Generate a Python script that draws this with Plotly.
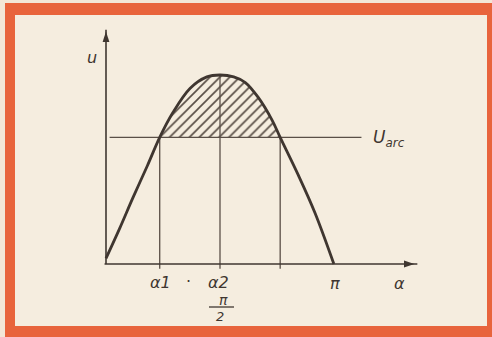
import math
import plotly.graph_objects as go

# u(alpha) curve over one half-period, read point by point
CURVE_ALPHA = [0.0, 0.19, 0.37, 0.57, 0.74, 0.92, 1.16, 1.39, 1.57, 1.76, 1.92, 2.10, 2.29, 2.40, 2.65, 2.88, 3.14]
CURVE_U = [0.03, 0.19, 0.35, 0.52, 0.67, 0.80, 0.93, 0.99, 1.00, 0.99, 0.96, 0.88, 0.76, 0.67, 0.47, 0.27, 0.0]

# arc voltage level and the characteristic angles
U_ARC = 0.67
ALPHA1 = 0.74
ALPHA2 = math.pi / 2
ALPHA3 = 2.40
ALPHA_PI = math.pi

# extents of the drawn axes and of the U_arc line
AXIS_X_END = 4.33
AXIS_Y_END = 1.27
UARC_X0, UARC_X1 = 0.05, 3.52

INK = "#3f3630"
THIN = "#5a4f47"

W, H = 492, 337
S = 228 / math.pi  # pixels per radian
fig = go.Figure()

# hatched area between the curve and U_arc
hatch_a = [a for a in CURVE_ALPHA if ALPHA1 <= a <= ALPHA3]
hatch_u = [u for a, u in zip(CURVE_ALPHA, CURVE_U) if ALPHA1 <= a <= ALPHA3]
fig.add_trace(go.Scatter(
    x=hatch_a, y=hatch_u, mode="lines", fill="toself",
    line=dict(width=0, shape="spline", smoothing=1.0),
    fillcolor="rgba(0,0,0,0)",
    fillpattern=dict(shape="/", size=7, solidity=0.24, fgcolor="#5a4f47",
                     bgcolor="rgba(0,0,0,0)", fillmode="replace"),
    hoverinfo="skip", showlegend=False,
))

# vertical guide lines
for xv, top in [(ALPHA1, U_ARC), (ALPHA2, 1.0), (ALPHA3, U_ARC)]:
    fig.add_trace(go.Scatter(x=[xv, xv], y=[-0.025, top], mode="lines",
                             line=dict(color=THIN, width=1.3),
                             hoverinfo="skip", showlegend=False))

# U_arc line
fig.add_trace(go.Scatter(x=[UARC_X0, UARC_X1], y=[U_ARC, U_ARC], mode="lines",
                         line=dict(color=THIN, width=1.4),
                         hoverinfo="skip", showlegend=False))

# the curve
fig.add_trace(go.Scatter(x=CURVE_ALPHA, y=CURVE_U, mode="lines",
                         line=dict(color=INK, width=2.8, shape="spline", smoothing=1.0),
                         hoverinfo="skip", showlegend=False))

# axes, each ending in an arrowhead marker
fig.add_trace(go.Scatter(x=[-0.02, AXIS_X_END - 0.04], y=[0, 0], mode="lines",
                         line=dict(color=INK, width=1.6), hoverinfo="skip", showlegend=False))
fig.add_trace(go.Scatter(x=[0, 0], y=[0, AXIS_Y_END - 0.03], mode="lines",
                         line=dict(color=INK, width=1.6), hoverinfo="skip", showlegend=False))
fig.add_trace(go.Scatter(x=[AXIS_X_END - 0.08], y=[0], mode="markers",
                         marker=dict(symbol="arrow", angle=90, size=11, color=INK),
                         hoverinfo="skip", showlegend=False))
fig.add_trace(go.Scatter(x=[0], y=[AXIS_Y_END - 0.04], mode="markers",
                         marker=dict(symbol="arrow", angle=0, size=11, color=INK),
                         hoverinfo="skip", showlegend=False))

# labels
def label(x, y, text, xshift=0, yshift=0, size=16):
    fig.add_annotation(x=x, y=y, xref="x", yref="y", text=text, showarrow=False,
                       xshift=xshift, yshift=yshift,
                       font=dict(family="DejaVu Sans", size=size, color=INK))

label(ALPHA1, 0, "<i>α1</i>", xshift=1, yshift=-18)
label(ALPHA1, 0, "·", xshift=29, yshift=-17)
label(ALPHA2, 0, "<i>α2</i>", xshift=-2, yshift=-18)
label(ALPHA2, 0, "<i>π</i>", xshift=3, yshift=-36, size=14)
label(ALPHA2, 0, "<i>2</i>", xshift=0, yshift=-52, size=13)
label(ALPHA_PI, 0, "<i>π</i>", xshift=1, yshift=-19)
label(AXIS_X_END, 0, "<i>α</i>", xshift=-21, yshift=-19)
label(0, AXIS_Y_END, "<i>u</i>", xshift=-14, yshift=-34)
label(UARC_X1, U_ARC, "<i>U<sub>arc</sub></i>", xshift=28, yshift=-1, size=17)

# fraction bar of pi/2
fig.add_shape(type="line", xref="x", yref="y", xsizemode="pixel", ysizemode="pixel",
              xanchor=ALPHA2, yanchor=0, x0=-11, x1=14, y0=-43, y1=-43,
              line=dict(color=INK, width=1.3))

# frame: outer orange border and cream card
fig.add_shape(type="rect", xref="paper", yref="paper", x0=5 / W, x1=1, y0=0, y1=1 - 3 / H,
              fillcolor="#e8643c", line_width=0, layer="below")
fig.add_shape(type="rect", xref="paper", yref="paper", x0=15 / W, x1=487 / W,
              y0=1 - 326 / H, y1=1 - 15 / H,
              fillcolor="#f5eddf", line_width=0, layer="below")

fig.update_layout(
    width=W, height=H, autosize=False,
    margin=dict(l=0, r=0, t=0, b=0),
    paper_bgcolor="#f3e7d7", plot_bgcolor="rgba(0,0,0,0)",
    xaxis=dict(visible=False, range=[-106 / S, (W - 106) / S], fixedrange=True),
    yaxis=dict(visible=False, range=[-(H - 264) / 189, 264 / 189], fixedrange=True),
    showlegend=False,
)

fig.write_html("out.html")
